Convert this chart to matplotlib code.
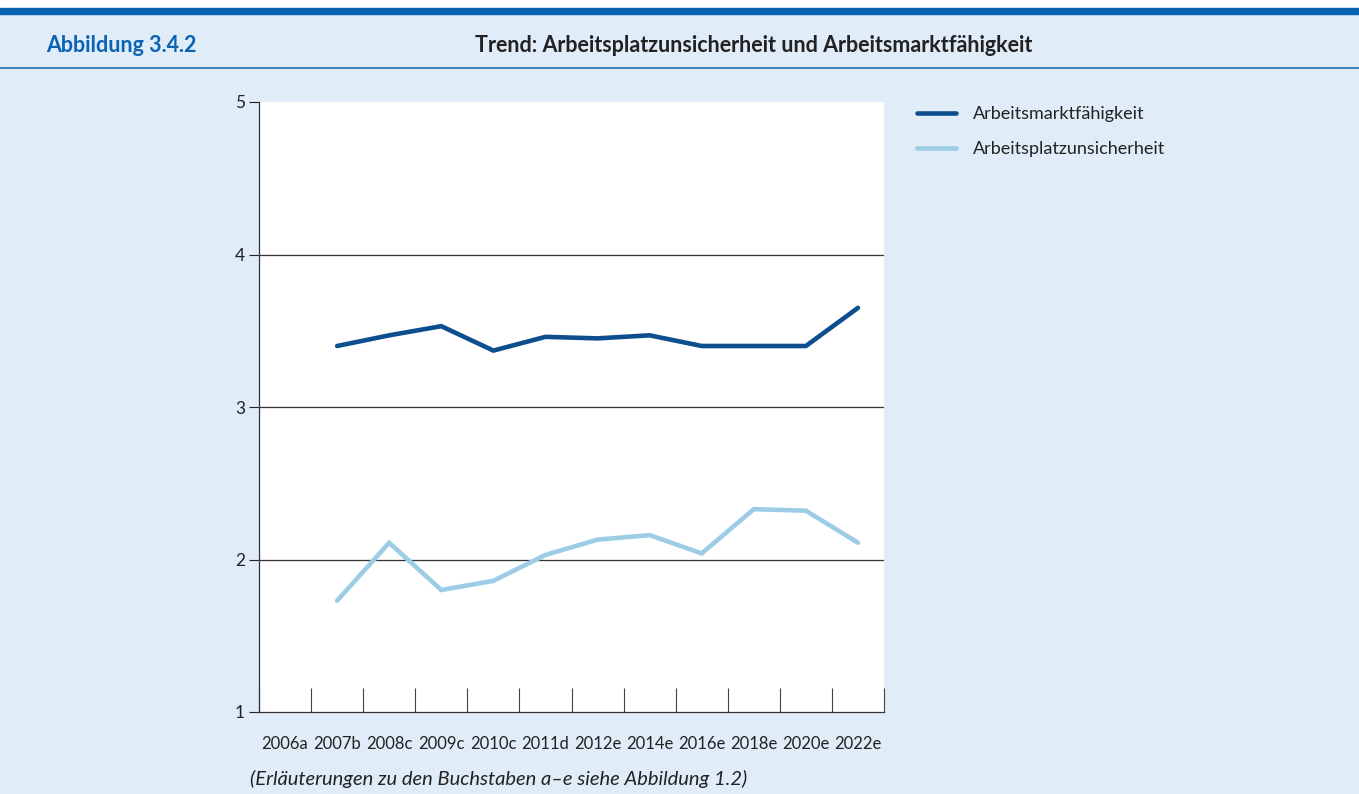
import numpy as np
import matplotlib.pyplot as plt
from matplotlib.lines import Line2D

plt.rcParams['font.family'] = ['Lato', 'DejaVu Sans']

# data
years = ['2006a', '2007b', '2008c', '2009c', '2010c', '2011d', '2012e',
         '2014e', '2016e', '2018e', '2020e', '2022e']
arbeitsmarkt = [np.nan, 3.40, 3.47, 3.53, 3.37, 3.46, 3.45, 3.47, 3.40, 3.40, 3.40, 3.65]
unsicherheit = [np.nan, 1.73, 2.11, 1.80, 1.86, 2.03, 2.13, 2.16, 2.04, 2.33, 2.32, 2.11]

bg = '#e0ecf8'
dark = '#0d4f8e'
light = '#9dcde6'

fig = plt.figure(figsize=(13.59, 7.94), dpi=100)
fig.patch.set_facecolor(bg)

# header band
fig.add_artist(plt.Rectangle((0, 1 - 8/794), 1, 8/794, transform=fig.transFigure,
                             color='white', zorder=0))
fig.add_artist(plt.Rectangle((0, 1 - 14/794), 1, 6.5/794, transform=fig.transFigure,
                             color='#0563b0', zorder=1))
fig.add_artist(Line2D([0, 1], [1 - 67.5/794] * 2, transform=fig.transFigure,
                      color='#1f6fb2', lw=1.2))
fig.text(46/1359, 1 - 45/794, 'Abbildung 3.4.2', color='#0a63b4', fontsize=15.5,
         fontweight='bold', va='center', ha='left')
fig.text(754/1359, 1 - 45/794, 'Trend: Arbeitsplatzunsicherheit und Arbeitsmarktfähigkeit',
         color='#222222', fontsize=15.5, fontweight='bold', va='center', ha='center')

ax = fig.add_axes([259/1359, 1 - 712/794, 625/1359, 610/794])
ax.set_facecolor('white')
x = np.arange(len(years))
ax.plot(x, arbeitsmarkt, color=dark, lw=3.3, solid_capstyle='round',
        solid_joinstyle='miter', label='Arbeitsmarktfähigkeit', zorder=3)
ax.plot(x, unsicherheit, color=light, lw=3.3, solid_capstyle='round',
        solid_joinstyle='miter', label='Arbeitsplatzunsicherheit', zorder=3)

ax.set_xlim(-0.5, len(years) - 0.5)
ax.set_ylim(1, 5)
ax.set_yticks([1, 2, 3, 4, 5])
ax.set_yticklabels(['1', '2', '3', '4', '5'])
for v in [2, 3, 4]:
    ax.axhline(v, color='#333333', lw=0.9, zorder=1)

ax.set_xticks(x)
ax.set_xticklabels(years)
ax.set_xticks(np.arange(len(years) + 1) - 0.5, minor=True)
ax.tick_params(axis='x', which='major', length=0, pad=17, labelsize=12, colors='#222222')
ax.tick_params(axis='x', which='minor', direction='in', length=17, width=0.8, color='#444444')
ax.tick_params(axis='y', length=7, width=0.8, pad=3, labelsize=12.5, colors='#222222')

for s in ['top', 'right']:
    ax.spines[s].set_visible(False)
for s in ['left', 'bottom']:
    ax.spines[s].set_color('#333333')
    ax.spines[s].set_linewidth(0.9)

leg = ax.legend(loc='upper left', bbox_to_anchor=(1.026, 1.02), frameon=False,
                fontsize=13, handlelength=2.2, handletextpad=0.9, labelspacing=1.05,
                labelcolor='#222222')

fig.text(250/1359, 1 - 779/794, '(Erläuterungen zu den Buchstaben a–e siehe Abbildung 1.2)',
         fontsize=14.5, style='italic', color='#222222', va='center', ha='left')

fig.savefig('out.png', dpi=100, facecolor=bg)
